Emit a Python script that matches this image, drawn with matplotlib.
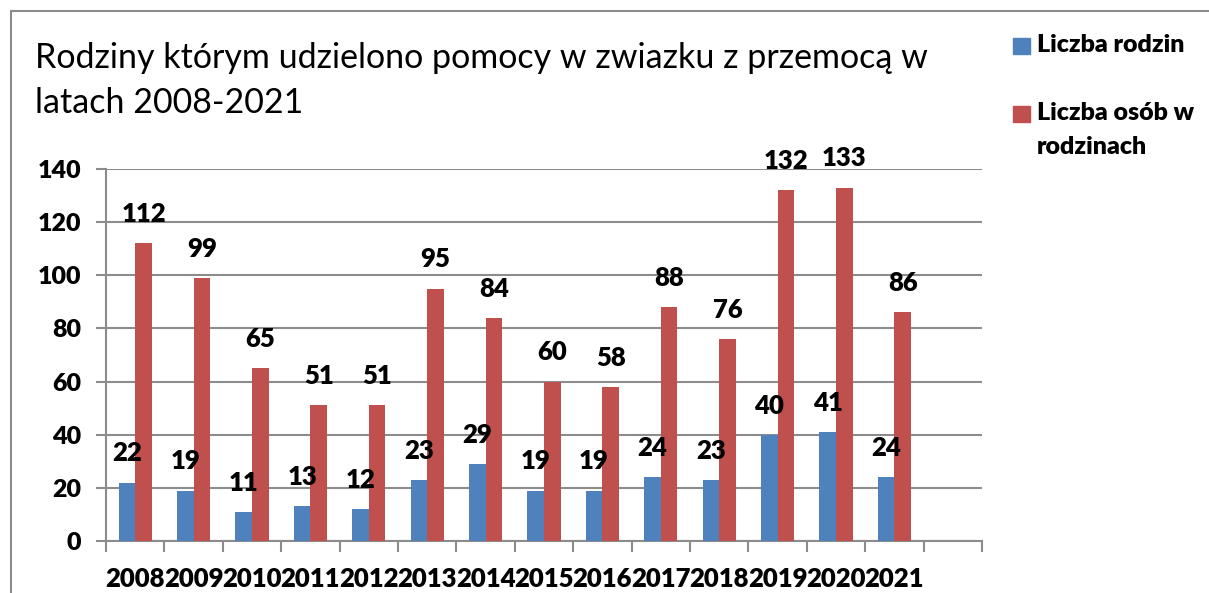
import numpy as np
import matplotlib.pyplot as plt
from matplotlib.patches import Rectangle

years = ["2008", "2009", "2010", "2011", "2012", "2013", "2014",
         "2015", "2016", "2017", "2018", "2019", "2020", "2021"]
families = [22, 19, 11, 13, 12, 23, 29, 19, 19, 24, 23, 40, 41, 24]
persons = [112, 99, 65, 51, 51, 95, 84, 60, 58, 88, 76, 132, 133, 86]
series_names = ["Liczba rodzin", "Liczba osób w\nrodzinach"]
colors = ["#4F81BD", "#C0504D"]
yticks = [0, 20, 40, 60, 80, 100, 120, 140]

W, H = 1209, 593
FONT = "Lato"
HEAVY = 800
GRID = "#8c8c8c"


def main():
    fig = plt.figure(figsize=(W / 100, H / 100), dpi=100)
    ax = fig.add_axes([106 / W, 1 - 541 / H, (982 - 106) / W, (541 - 169) / H])

    x = np.arange(len(years))
    bw = 0.285
    bars_a = ax.bar(x - bw / 2, families, bw, color=colors[0], zorder=3)
    bars_b = ax.bar(x + bw / 2, persons, bw, color=colors[1], zorder=3)

    # value labels above every bar
    for bars, vals in ((bars_a, families), (bars_b, persons)):
        for b, v in zip(bars, vals):
            ax.annotate(str(v), (b.get_x() + b.get_width() / 2, v),
                        xytext=(0, 21), textcoords="offset points",
                        ha="center", va="center", fontsize=18.5,
                        fontweight=HEAVY, family=FONT, color="black")

    ax.set_xlim(-0.5, len(years) + 0.5)
    ax.set_ylim(0, 140)
    ax.set_yticks(yticks)
    ax.set_yticklabels([str(t) for t in yticks], fontsize=18,
                       fontweight=HEAVY, family=FONT)
    ax.yaxis.grid(True, color=GRID, linewidth=1.5, zorder=0)
    ax.tick_params(axis="y", length=7, width=1.5, color=GRID, pad=11)

    ax.set_xticks(x)
    ax.set_xticklabels(years, fontsize=18.5, fontweight=HEAVY, family=FONT)
    ax.set_xticks(np.arange(-0.5, len(years) + 1, 1), minor=True)
    ax.tick_params(axis="x", which="major", length=0, pad=19)
    ax.tick_params(axis="x", which="minor", length=8, width=1.5,
                   color=GRID)

    for side in ("top", "right"):
        ax.spines[side].set_visible(False)
    for side in ("left", "bottom"):
        ax.spines[side].set_color(GRID)
        ax.spines[side].set_linewidth(1.5)

    # title
    fig.text(35 / W, 1 - 58 / H, "Rodziny którym udzielono pomocy w zwiazku z przemocą w",
             fontsize=24.5, family=FONT, va="center", ha="left")
    fig.text(35 / W, 1 - 103 / H, "latach 2008-2021",
             fontsize=24.5, family=FONT, va="center", ha="left")

    # legend
    legend_rows = [46, 114]
    for name, col, yc in zip(series_names, colors, legend_rows):
        fig.add_artist(Rectangle((1013 / W, 1 - (yc + 8) / H), 17 / W, 16 / H,
                                 transform=fig.transFigure, color=col))
        fig.text(1037 / W, 1 - (yc - 12) / H, name, fontsize=18,
                 fontweight=HEAVY, family=FONT, va="top", ha="left",
                 linespacing=1.65)

    # chart frame
    fig.add_artist(Rectangle((11 / W, -0.1), 2, 1.1 - 11 / H,
                             transform=fig.transFigure, fill=False,
                             edgecolor="#8c8c8c", linewidth=1.5))

    fig.savefig("out.png", dpi=100)


if __name__ == "__main__":
    main()
